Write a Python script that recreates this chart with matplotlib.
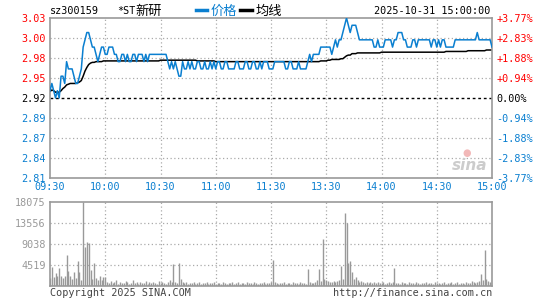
import matplotlib
matplotlib.use('Agg')
import matplotlib.pyplot as plt
from matplotlib.lines import Line2D

plt.rcParams['font.family'] = ['DejaVu Sans Mono', 'Noto Sans CJK SC']

# dane z wykresu (minuty 0..240 od 09:30)
code = 'sz300159'
name_prefix = '*ST'
name_cn = '新研'
stamp = '2025-10-31 15:00:00'
prev_close = 2.92

price = [
    2.93, 2.94, 2.93, 2.92, 2.93, 2.92, 2.95, 2.95, 2.94, 2.97,
    2.96, 2.96, 2.96, 2.95, 2.94, 2.94, 2.95, 2.96, 2.99, 3.00,
    3.01, 3.01, 3.00, 2.99, 2.99, 2.98, 2.97, 2.98, 2.99, 2.99,
    2.98, 2.98, 2.99, 2.99, 2.99, 2.98, 2.98, 2.97, 2.97, 2.98,
    2.98, 2.97, 2.98, 2.97, 2.97, 2.98, 2.98, 2.97, 2.98, 2.98,
    2.98, 2.97, 2.98, 2.97, 2.98, 2.98, 2.98, 2.98, 2.98, 2.98,
    2.98, 2.98, 2.98, 2.98, 2.97, 2.96, 2.97, 2.96, 2.97, 2.96,
    2.95, 2.95, 2.97, 2.96, 2.96, 2.97, 2.96, 2.97, 2.96, 2.96,
    2.97, 2.97, 2.96, 2.96, 2.97, 2.96, 2.96, 2.97, 2.96, 2.97,
    2.96, 2.97, 2.97, 2.96, 2.96, 2.97, 2.97, 2.96, 2.96, 2.96,
    2.96, 2.97, 2.97, 2.96, 2.96, 2.96, 2.97, 2.97, 2.96, 2.96,
    2.97, 2.97, 2.96, 2.96, 2.97, 2.96, 2.97, 2.97, 2.97, 2.96,
    2.96, 2.96, 2.97, 2.97, 2.97, 2.97, 2.97, 2.97, 2.96, 2.96,
    2.97, 2.97, 2.96, 2.96, 2.96, 2.97, 2.96, 2.96, 2.96, 2.96,
    2.97, 2.98, 2.97, 2.98, 2.98, 2.98, 2.98, 2.99, 2.99, 2.99,
    2.99, 2.99, 2.99, 2.98, 2.99, 3.00, 2.99, 3.00, 3.00, 3.01,
    3.02, 3.03, 3.02, 3.01, 3.02, 3.02, 3.02, 3.01, 3.00, 3.00,
    3.00, 3.00, 3.00, 3.00, 3.00, 3.00, 2.99, 2.99, 3.00, 2.99,
    2.99, 2.99, 3.00, 3.00, 3.00, 3.00, 2.99, 3.00, 3.00, 3.01,
    3.01, 3.01, 3.00, 3.00, 2.99, 2.99, 2.99, 3.00, 3.00, 2.99,
    3.00, 3.00, 3.00, 3.00, 3.00, 3.00, 3.00, 2.99, 3.00, 3.00,
    2.99, 3.00, 2.99, 3.00, 3.00, 2.99, 2.99, 2.99, 2.99, 2.99,
    3.00, 3.00, 3.00, 3.00, 3.00, 3.00, 3.00, 3.00, 3.00, 3.00,
    3.00, 3.00, 3.01, 3.00, 3.00, 3.00, 3.00, 3.00, 3.00, 3.00,
    2.99,
]

avg = [
    2.929, 2.931, 2.930, 2.928, 2.928, 2.928, 2.930, 2.933, 2.935, 2.938,
    2.939, 2.940, 2.940, 2.940, 2.940, 2.941, 2.942, 2.944, 2.950, 2.957,
    2.962, 2.966, 2.968, 2.969, 2.969, 2.970, 2.970, 2.970, 2.970, 2.971,
    2.971, 2.971, 2.971, 2.971, 2.971, 2.971, 2.971, 2.971, 2.971, 2.971,
    2.971, 2.971, 2.971, 2.971, 2.971, 2.971, 2.971, 2.971, 2.971, 2.971,
    2.971, 2.971, 2.971, 2.971, 2.971, 2.971, 2.971, 2.971, 2.971, 2.971,
    2.972, 2.972, 2.972, 2.972, 2.972, 2.972, 2.972, 2.972, 2.972, 2.972,
    2.972, 2.972, 2.972, 2.972, 2.972, 2.972, 2.972, 2.972, 2.972, 2.972,
    2.971, 2.971, 2.971, 2.971, 2.971, 2.971, 2.971, 2.971, 2.971, 2.971,
    2.970, 2.970, 2.970, 2.970, 2.970, 2.970, 2.970, 2.970, 2.970, 2.970,
    2.970, 2.970, 2.970, 2.970, 2.970, 2.970, 2.970, 2.970, 2.970, 2.970,
    2.970, 2.970, 2.970, 2.970, 2.970, 2.970, 2.970, 2.970, 2.970, 2.970,
    2.970, 2.970, 2.970, 2.970, 2.970, 2.970, 2.970, 2.970, 2.970, 2.970,
    2.970, 2.970, 2.970, 2.970, 2.970, 2.970, 2.970, 2.970, 2.970, 2.970,
    2.970, 2.970, 2.970, 2.970, 2.970, 2.970, 2.970, 2.971, 2.971, 2.971,
    2.971, 2.972, 2.972, 2.973, 2.973, 2.973, 2.973, 2.973, 2.974, 2.974,
    2.976, 2.978, 2.979, 2.979, 2.981, 2.981, 2.981, 2.982, 2.982, 2.982,
    2.982, 2.982, 2.982, 2.982, 2.982, 2.982, 2.982, 2.982, 2.982, 2.982,
    2.983, 2.983, 2.983, 2.983, 2.983, 2.983, 2.983, 2.983, 2.983, 2.983,
    2.983, 2.983, 2.983, 2.983, 2.983, 2.983, 2.983, 2.983, 2.983, 2.983,
    2.983, 2.983, 2.983, 2.983, 2.983, 2.983, 2.983, 2.983, 2.983, 2.983,
    2.983, 2.983, 2.983, 2.983, 2.983, 2.984, 2.984, 2.984, 2.984, 2.984,
    2.984, 2.984, 2.984, 2.984, 2.984, 2.984, 2.984, 2.985, 2.985, 2.985,
    2.985, 2.985, 2.985, 2.985, 2.985, 2.985, 2.985, 2.986, 2.986, 2.986,
    2.986,
]

volume = [
    1780, 4140, 2000, 2860, 2140, 3930, 2140, 1640, 2140, 6650,
    3290, 2140, 1430, 3070, 1640, 5360, 3070, 1290, 18075, 8290,
    9500, 9150, 3430, 1430, 5000, 1640, 1290, 2140, 1290, 1860,
    1860, 930, 700, 1100, 600, 800, 1200, 500, 900, 700,
    600, 1000, 800, 500, 700, 1300, 600, 900, 500, 800,
    700, 600, 1100, 500, 800, 600, 900, 700, 500, 1000,
    600, 800, 700, 500, 900, 1200, 800, 4700, 900, 700,
    5000, 1500, 900, 600, 800, 500, 700, 600, 900, 500,
    600, 800, 500, 700, 600, 900, 500, 700, 600, 800,
    500, 600, 700, 500, 800, 600, 500, 700, 600, 900,
    500, 600, 800, 500, 700, 600, 500, 800, 600, 700,
    500, 900, 600, 500, 700, 600, 800, 500, 600, 700,
    900, 5570, 800, 600, 500, 700, 600, 800, 500, 700,
    600, 500, 800, 600, 700, 500, 900, 600, 700, 500,
    3640, 800, 600, 700, 900, 1200, 3640, 1000, 10220, 1500,
    1200, 1000, 900, 800, 1100, 900, 1000, 1300, 4290, 1500,
    15800, 13650, 4900, 5360, 3000, 1500, 2000, 1200, 900, 1000,
    800, 700, 900, 600, 800, 700, 900, 600, 800, 700,
    600, 800, 500, 700, 900, 600, 800, 3860, 700, 600,
    500, 800, 600, 700, 500, 900, 600, 700, 500, 800,
    600, 500, 700, 600, 800, 500, 700, 600, 500, 800,
    600, 700, 500, 600, 800, 500, 700, 600, 900, 500,
    600, 800, 500, 700, 600, 500, 800, 600, 700, 1000,
    800, 700, 900, 1100, 2500, 1200, 7720, 1500, 1000, 900,
    1200,
]

price_ticks = [2.81, 2.8375, 2.865, 2.8925, 2.92, 2.9475, 2.975, 3.0025, 3.03]
price_labels = ['2.81', '2.84', '2.87', '2.89', '2.92', '2.95', '2.98', '3.00', '3.03']
pct_labels = ['-3.77%', '-2.83%', '-1.88%', '-0.94%', '0.00%',
              '+0.94%', '+1.88%', '+2.83%', '+3.77%']
vol_ticks = [0, 4519, 9038, 13556, 18075]
vol_labels = ['', '4519', '9038', '13556', '18075']
time_ticks = [0, 30, 60, 90, 120, 150, 180, 210, 240]
time_labels = ['09:30', '10:00', '10:30', '11:00', '11:30',
               '13:30', '14:00', '14:30', '15:00']

BLUE = '#0a7fd0'
RED = '#ff0000'
GRAY = '#999999'
FS = 7.3
FS_CN = 9.5

W, H = 545, 300
fig = plt.figure(figsize=(W / 100, H / 100), dpi=100)

def box(x0, y0, x1, y1):
    return [x0 / W, 1 - y1 / H, (x1 - x0) / W, (y1 - y0) / H]

ax = fig.add_axes(box(50, 18, 492, 178))
axv = fig.add_axes(box(50, 202, 492, 286))

minutes = list(range(len(price)))

for a in (ax, axv):
    for s in a.spines.values():
        s.set_color(GRAY)
        s.set_linewidth(1.2)
    a.set_xlim(0, 240)
    a.set_xticks(time_ticks)
    a.tick_params(length=0)
    for t in time_ticks[1:-1]:
        a.axvline(t, color='#aaaaaa', lw=0.9, ls=(0, (1, 2)), zorder=0)

# wykres ceny
ax.set_ylim(price_ticks[0], price_ticks[-1])
ax.set_yticks(price_ticks)
for p in price_ticks[1:-1]:
    if p != prev_close:
        ax.axhline(p, color='#aaaaaa', lw=0.9, ls=(0, (1, 2)), zorder=0)
ax.axhline(prev_close, color='black', lw=1, ls=(0, (2, 2)), zorder=1)
ax.plot(minutes, price, color=BLUE, lw=1.1, zorder=3)
ax.plot(minutes, avg, color='black', lw=1.1, zorder=2)

ax.set_yticklabels(price_labels, fontsize=FS)
ax.set_xticklabels(time_labels, fontsize=FS, color=BLUE)
ax.tick_params(axis='x', pad=3)
ax.tick_params(axis='y', pad=3)

def level_color(p):
    if abs(p - prev_close) < 1e-9:
        return 'black'
    return RED if p > prev_close else BLUE

for lab, p in zip(ax.get_yticklabels(), price_ticks):
    lab.set_color(level_color(p))

axr = ax.twinx()
axr.set_ylim(ax.get_ylim())
axr.set_yticks(price_ticks)
axr.set_yticklabels(pct_labels, fontsize=FS)
axr.tick_params(length=0, pad=3)
for s in axr.spines.values():
    s.set_visible(False)
for lab, p in zip(axr.get_yticklabels(), price_ticks):
    lab.set_color(level_color(p))

# wolumen
axv.set_ylim(0, vol_ticks[-1])
axv.set_yticks(vol_ticks)
axv.set_yticklabels(vol_labels, fontsize=FS, color=GRAY)
axv.tick_params(axis='y', pad=3)
axv.set_xticklabels([])
for v in vol_ticks[1:-1]:
    axv.axhline(v, color='#aaaaaa', lw=0.9, ls=(0, (1, 2)), zorder=0)
axv.vlines(minutes, 0, volume, color=GRAY, lw=1)

# naglowek
ty = 1 - 11 / H
fig.text(50 / W, ty, code, fontsize=FS, va='center', ha='left')
fig.text(117 / W, ty, name_prefix, fontsize=FS, va='center', ha='left')
fig.text(135 / W, ty, name_cn, fontsize=FS_CN, va='center', ha='left')
fig.add_artist(Line2D([196 / W, 207 / W], [1 - 10 / H, 1 - 10 / H], color=BLUE, lw=2.5))
fig.text(211 / W, ty, '价格', fontsize=FS_CN, va='center', ha='left', color=BLUE)
fig.add_artist(Line2D([240 / W, 252 / W], [1 - 10 / H, 1 - 10 / H], color='black', lw=2.5))
fig.text(256 / W, ty, '均线', fontsize=FS_CN, va='center', ha='left')
fig.text(490 / W, ty, stamp, fontsize=FS, va='center', ha='right')

# stopka
fig.text(50 / W, 1 - 293 / H, 'Copyright 2025 SINA.COM', fontsize=FS, va='center',
         ha='left', color='#444444')
fig.text(492 / W, 1 - 293 / H, 'http://finance.sina.com.cn', fontsize=FS, va='center',
         ha='right', color='#444444')

# znak wodny sina
fig.text(470 / W, 1 - 165 / H, 'sina', fontsize=11, fontweight='bold', style='italic',
         color='#cccccc', ha='center', va='center', family='DejaVu Sans')
fig.text(467 / W, 1 - 153 / H, '●', fontsize=7, color='#f2b8b8', ha='center', va='center',
         family='DejaVu Sans')

fig.savefig('out.png', dpi=100)
